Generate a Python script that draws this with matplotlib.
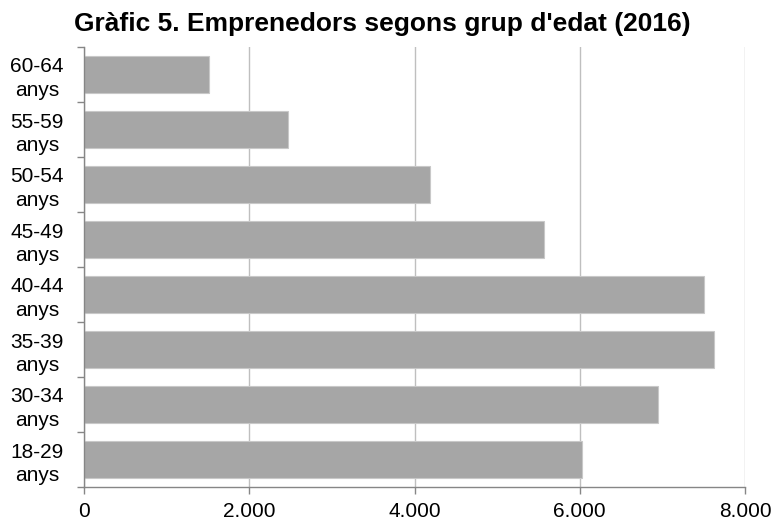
import matplotlib
matplotlib.use("Agg")
from matplotlib import pyplot
import matplotlib.ticker

# dades (de baix a dalt)
categories = ["18-29\nanys", "30-34\nanys", "35-39\nanys", "40-44\nanys",
              "45-49\nanys", "50-54\nanys", "55-59\nanys", "60-64\nanys"]
values = [6027, 6947, 7625, 7504, 5567, 4188, 2469, 1513]
x_ticks = [0, 2000, 4000, 6000, 8000]
x_tick_labels = ["0", "2.000", "4.000", "6.000", "8.000"]

pyplot.rcParams["font.family"] = ["Liberation Sans", "DejaVu Sans"]

fig = pyplot.figure(figsize=(7.74, 5.21), dpi=100, facecolor="w")
ax = fig.add_axes([84 / 774, 1 - 487 / 521, 661 / 774, 440 / 521])

pos = list(range(len(categories)))
ax.barh(pos, values, height=0.66, color="#a6a6a6", edgecolor="#c8c8c8", linewidth=0.8, zorder=2)

ax.set_xlim(0, 8000)
ax.set_ylim(-0.5, len(categories) - 0.5)
ax.set_xticks(x_ticks)
ax.set_xticklabels(x_tick_labels, fontsize=15)
ax.set_yticks(pos)
ax.set_yticklabels(categories, fontsize=15, ha="center", linespacing=1.27)
ax.tick_params(axis="y", which="major", length=0, pad=34)
# marques entre categories
ax.yaxis.set_minor_locator(matplotlib.ticker.FixedLocator([p - 0.5 for p in pos] + [len(pos) - 0.5]))
ax.tick_params(axis="y", which="minor", length=5, color="#868686", width=1)
ax.tick_params(axis="x", length=5, color="#868686", width=1, pad=6)

ax.grid(axis="x", color="#bfbfbf", linewidth=1, zorder=0)
ax.set_axisbelow(True)
for s in ["top", "right"]:
    ax.spines[s].set_visible(False)
for s in ["left", "bottom"]:
    ax.spines[s].set_color("#868686")
    ax.spines[s].set_linewidth(1)

fig.text(382 / 774, 0.954, "Gràfic 5. Emprenedors segons grup d'edat (2016)",
         ha="center", va="center", fontsize=19, fontweight="bold")

pyplot.savefig("out.png", dpi=100)
